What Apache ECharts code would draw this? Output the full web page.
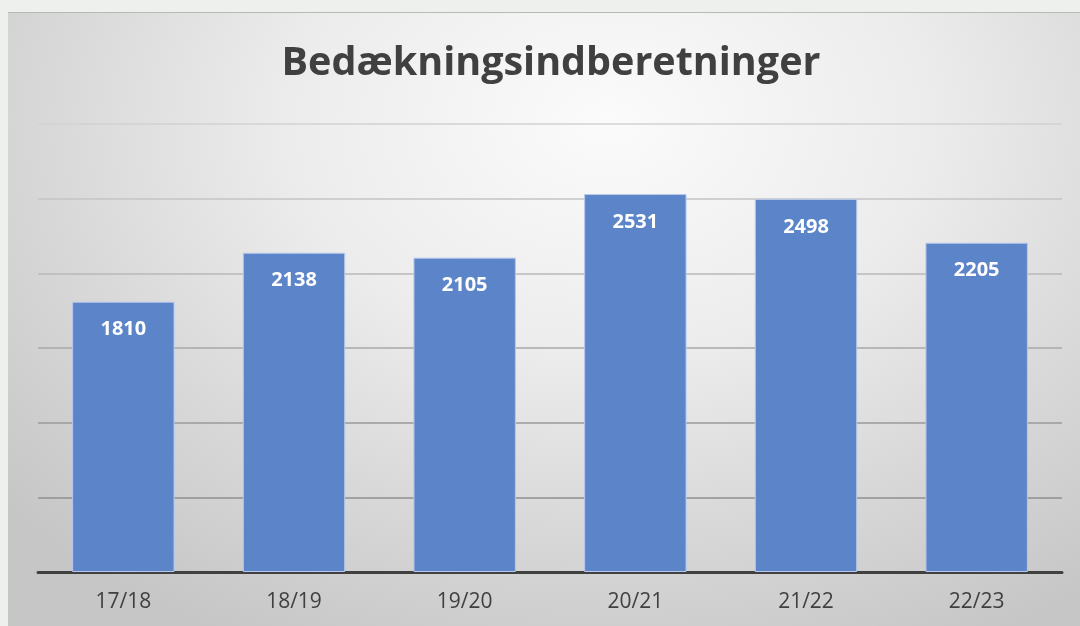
<!DOCTYPE html>
<html>
<head>
<meta charset="utf-8">
<script src="https://cdn.jsdelivr.net/npm/echarts@6/dist/echarts.min.js"></script>
<style>
  html, body { margin:0; padding:0; width:1080px; height:626px; overflow:hidden; background:#eef0ee; }
  #frame { position:absolute; left:8px; top:12px; width:1072px; height:614px;
    background: radial-gradient(ellipse 75% 95% at 56% 18%, #fbfbfb 0%, #ececec 40%, #d8d8d8 70%, #c6c6c6 100%);
    border-top:1px solid #b8b8b8; box-sizing:border-box; }
  #chart { position:absolute; left:0; top:0; width:1080px; height:626px; }
</style>
</head>
<body>
<div id="frame"></div>
<div id="chart"></div>
<script>
const title = 'Bedækningsindberetninger';
const categories = ['17/18', '18/19', '19/20', '20/21', '21/22', '22/23'];
const values = [1810, 2138, 2105, 2531, 2498, 2205];

const chart = echarts.init(document.getElementById('chart'), null, { renderer: 'canvas' });
chart.setOption({
  backgroundColor: 'transparent',
  title: {
    text: title,
    left: 546, top: 39, textAlign: 'center',
    textStyle: { fontFamily: 'Open Sans', fontWeight: 'bold', fontSize: 39.5, color: '#404040' }
  },
  grid: { left: 38, right: 18, top: 124, bottom: 54 },
  xAxis: {
    type: 'category',
    data: categories,
    axisLine: { show: true, lineStyle: { color: '#404040', width: 3 } },
    axisTick: { show: false },
    axisLabel: { fontFamily: 'Open Sans', fontSize: 21, color: '#404040', margin: 20 }
  },
  yAxis: {
    type: 'value',
    min: 0, max: 3000, interval: 500,
    axisLabel: { show: false },
    axisLine: { show: false },
    axisTick: { show: false },
    splitLine: { lineStyle: { color: ['#404040', '#8f8f8f', '#9a9a9a', '#a8a8a8', '#b8b8b8', '#c4c4c4', '#d2d2d2'], width: 1.5 } }
  },
  series: [{
    type: 'bar',
    data: values,
    barWidth: '60%',
    itemStyle: { color: '#5b84c9', borderColor: '#b8c8ea', borderWidth: 1 },
    label: {
      show: true, position: 'insideTop', distance: 18,
      fontFamily: 'Open Sans', fontWeight: 'bold', fontSize: 20, color: '#ffffff'
    }
  }]
});
</script>
</body>
</html>
